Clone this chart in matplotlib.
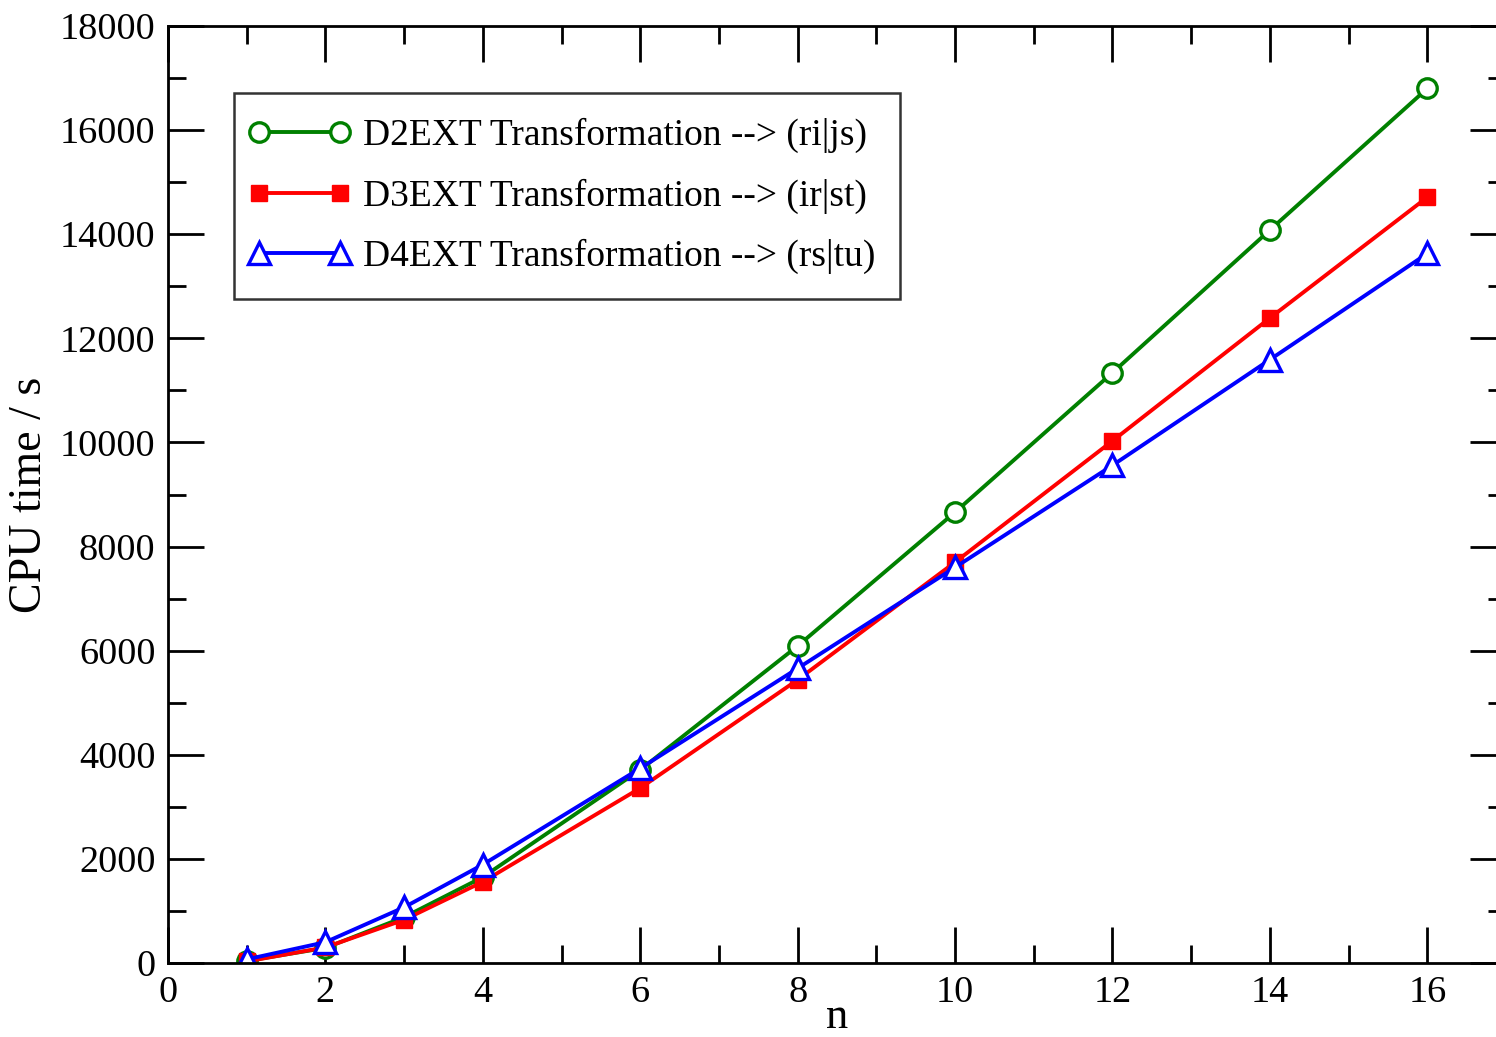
#!/usr/bin/env python3
"""CPU time of the D2EXT/D3EXT/D4EXT integral transformations versus n."""

import matplotlib
matplotlib.use("Agg")
import matplotlib.pyplot as plt
from matplotlib.legend_handler import HandlerLine2D
from matplotlib.ticker import MultipleLocator

n = [1, 2, 3, 4, 6, 8, 10, 12, 14, 16]
d2ext = [40, 290, 880, 1650, 3710, 6090, 8660, 11340, 14080, 16800]
d3ext = [30, 300, 830, 1560, 3360, 5440, 7700, 10030, 12390, 14710]
d4ext = [70, 400, 1070, 1890, 3740, 5660, 7600, 9560, 11590, 13630]

labels = [
    "D2EXT Transformation --> (ri|js)",
    "D3EXT Transformation --> (ir|st)",
    "D4EXT Transformation --> (rs|tu)",
]

plt.rcParams["font.family"] = ["Liberation Serif", "DejaVu Serif"]

fig = plt.figure(figsize=(14.96, 10.37), dpi=100)
ax = fig.add_axes([168 / 1496, 1 - 963 / 1037, (1506 - 168) / 1496, (963 - 26) / 1037])

lw = 2.8
l2, = ax.plot(n, d2ext, color="#008000", lw=lw, marker="o", ms=14, mfc="white",
              mec="#008000", mew=2.4, label=labels[0])
l3, = ax.plot(n, d3ext, color="#ff0000", lw=lw, marker="s", ms=12, mfc="#ff0000",
              mec="#ff0000", mew=1, label=labels[1])
l4, = ax.plot(n, d4ext, color="#0000ff", lw=lw, marker="^", ms=16, mfc="white",
              mec="#0000ff", mew=2.4, label=labels[2])

ax.set_xlim(0, 17)
ax.set_ylim(0, 18000)
ax.xaxis.set_major_locator(MultipleLocator(2))
ax.xaxis.set_minor_locator(MultipleLocator(1))
ax.yaxis.set_major_locator(MultipleLocator(2000))
ax.yaxis.set_minor_locator(MultipleLocator(1000))

for side in ax.spines.values():
    side.set_linewidth(2.0)
ax.tick_params(which="both", direction="in", top=True, right=True,
               width=2.0, labelsize=27.5, pad=9)
ax.tick_params(which="major", length=26)
ax.tick_params(which="minor", length=13)

ax.set_xlabel("n", fontsize=32, labelpad=-9)
ax.set_ylabel("CPU time / s", fontsize=33, labelpad=6)

# markers sit at the very ends of the legend line, grace style
ends = {h: HandlerLine2D(numpoints=2, marker_pad=0) for h in (l2, l3, l4)}
leg = ax.legend(loc="upper left", bbox_to_anchor=(0.0493, 0.9285), fontsize=27,
                frameon=True, fancybox=False, edgecolor="black",
                handlelength=2.16, handletextpad=0.61, borderpad=0.67,
                labelspacing=0.67, borderaxespad=0, handler_map=ends)
leg.get_frame().set_linewidth(1.8)

fig.savefig("out.png", dpi=100, facecolor="white")
